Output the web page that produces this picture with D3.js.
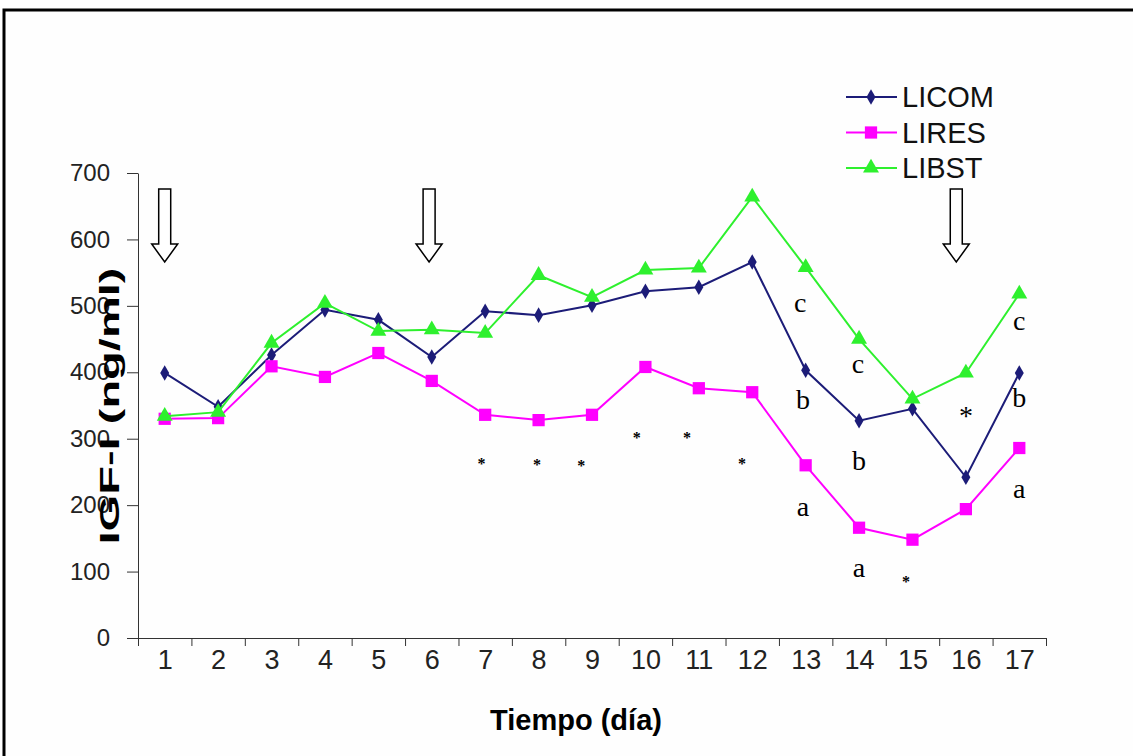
<!DOCTYPE html>
<html>
<head>
<title>IGF-I</title>
<script src="https://d3js.org/d3.v7.min.js"></script>
<style>
body, html {
  margin: 0;
  padding: 0;
  background: #fff;
}
svg {
  display: block;
}
</style>
</head>
<body>
<svg id="chart" width="1133" height="756"></svg>

<script>

// days on x axis
const days = d3.range(1, 18);
const yTicks = [0, 100, 200, 300, 400, 500, 600, 700];

// IGF-I (ng/ml)
const licom = [399, 348, 426, 494, 479, 423, 492, 486, 501, 522, 528, 566, 403, 327, 345, 242, 399];
const lires = [330, 331, 409, 393, 429, 387, 336, 328, 336, 408, 376, 370, 260, 166, 148, 194, 286];
const libst = [334, 340, 444, 504, 462, 464, 459, 546, 513, 554, 557, 664, 558, 450, 360, 399, 518];

const seriesNames = ["LICOM", "LIRES", "LIBST"];

// significance letters (day, value, text)
const letterDay = [12.9, 12.95, 12.95, 13.98, 14, 14, 16, 17, 17, 17];
const letterVal = [504, 358, 196, 411, 266, 105, 352, 476, 361, 223];
const letterTxt = ["c", "b", "a", "c", "b", "a", "*", "c", "b", "a"];

// little clipped asterisks
const starDay = [6.93, 7.97, 8.8, 9.84, 10.78, 11.81, 14.88];
const starVal = [268, 266, 265, 307, 307, 268, 90];

// injection arrows (day, top value, tip value)
const arrowDay = [1, 5.95, 15.82];
const arrowTop = [676, 676, 676];
const arrowTip = [566, 566, 566];

main();

function main() {
  const svg = d3.select("#chart");

  // outer frame
  svg.append("rect")
     .attr("x", 4).attr("y", 10)
     .attr("width", 1150).attr("height", 770)
     .attr("fill", "#fefefe")
     .attr("stroke", "#000")
     .attr("stroke-width", 3);

  const x = d3.scaleLinear().domain([0.5, 17.5]).range([138, 1046]);
  const y = d3.scaleLinear().domain([0, 700]).range([638, 173]);

  // y axis
  const yAxis = svg.append("g")
     .attr("transform", "translate(138,0)")
     .call(d3.axisLeft(y).tickValues(yTicks).tickSize(11).tickSizeOuter(0).tickPadding(17));
  yAxis.selectAll("text")
     .style("font-family", "Arial, 'Liberation Sans', sans-serif")
     .style("font-size", "24px")
     .attr("fill", "#222");
  yAxis.selectAll("line,path").attr("stroke", "#333");

  // x axis: labels at centres, ticks between categories
  const xLab = svg.append("g")
     .attr("transform", "translate(0,638)")
     .call(d3.axisBottom(x).tickValues(days).tickSize(0).tickPadding(12).tickFormat(d3.format("d")));
  xLab.select("path").remove();
  xLab.selectAll("text")
     .style("font-family", "Arial, 'Liberation Sans', sans-serif")
     .style("font-size", "27px")
     .attr("fill", "#222");

  const xTick = svg.append("g")
     .attr("transform", "translate(0,638)")
     .call(d3.axisBottom(x).tickValues(d3.range(0.5, 18, 1)).tickSize(8).tickSizeOuter(0).tickFormat(""));
  xTick.selectAll("line,path").attr("stroke", "#333");

  // axis titles
  svg.append("text")
     .attr("x", 576).attr("y", 730)
     .attr("text-anchor", "middle")
     .style("font-family", "Arial, 'Liberation Sans', sans-serif")
     .style("font-size", "29px")
     .style("font-weight", "bold")
     .text("Tiempo (día)");

  svg.append("text")
     .attr("transform", "translate(119,406) rotate(-90)")
     .attr("text-anchor", "middle")
     .attr("textLength", 277)
     .attr("lengthAdjust", "spacingAndGlyphs")
     .style("font-family", "Arial, 'Liberation Sans', sans-serif")
     .style("font-size", "28px")
     .style("font-weight", "bold")
     .text("IGF-I (ng/ml)");

  // arrows
  arrowDay.forEach(function(d, i) {
    const cx = x(d), top = y(arrowTop[i]), tip = y(arrowTip[i]);
    const neck = tip - 18;
    const p = d3.path();
    p.moveTo(cx - 6, top);
    p.lineTo(cx + 6, top);
    p.lineTo(cx + 6, neck);
    p.lineTo(cx + 13, neck);
    p.lineTo(cx, tip);
    p.lineTo(cx - 13, neck);
    p.lineTo(cx - 6, neck);
    p.closePath();
    svg.append("path")
       .attr("d", p.toString())
       .attr("fill", "#fff")
       .attr("stroke", "#000")
       .attr("stroke-width", 1.5);
  });

  const line = d3.line().x((d, i) => x(days[i])).y(d => y(d));

  const diamond = d3.symbol().type(d3.symbolDiamond).size(70);
  const square = d3.symbol().type(d3.symbolSquare).size(150);
  const triangle = d3.symbol().type(d3.symbolTriangle).size(110);

  const series = [
    { name: seriesNames[0], values: licom, color: "#1c1c78", symbol: diamond },
    { name: seriesNames[1], values: lires, color: "#ff00ff", symbol: square },
    { name: seriesNames[2], values: libst, color: "#2ef02e", symbol: triangle }
  ];

  series.forEach(function(s) {
    svg.append("path")
       .attr("d", line(s.values))
       .attr("fill", "none")
       .attr("stroke", s.color)
       .attr("stroke-width", 2);
    svg.append("g").selectAll("path")
       .data(s.values)
       .join("path")
       .attr("transform", (d, i) => "translate(" + x(days[i]) + "," + y(d) + ")")
       .attr("d", s.symbol())
       .attr("fill", s.color);
  });

  // letters
  svg.append("g").selectAll("text")
     .data(letterTxt)
     .join("text")
     .attr("x", (d, i) => x(letterDay[i]))
     .attr("y", (d, i) => y(letterVal[i]))
     .attr("dy", d => d === "*" ? "0.75em" : "0.3em")
     .attr("text-anchor", "middle")
     .style("font-family", "'Liberation Serif', 'Times New Roman', serif")
     .style("font-size", "28px")
     .text(d => d);

  svg.append("g").selectAll("text")
     .data(starVal)
     .join("text")
     .attr("x", (d, i) => x(starDay[i]))
     .attr("y", d => y(d))
     .attr("dy", "0.55em")
     .attr("text-anchor", "middle")
     .attr("fill", "#000")
     .style("font-family", "'Liberation Serif', 'Times New Roman', serif")
     .style("font-size", "16px")
     .style("font-weight", "bold")
     .text("*");

  // legend
  const legend = svg.append("g");
  series.forEach(function(s, i) {
    const ly = 97 + i * 35.5;
    legend.append("line")
       .attr("x1", 846).attr("x2", 897)
       .attr("y1", ly).attr("y2", ly)
       .attr("stroke", s.color)
       .attr("stroke-width", 2);
    legend.append("path")
       .attr("transform", "translate(871," + ly + ")")
       .attr("d", s.symbol())
       .attr("fill", s.color);
    legend.append("text")
       .attr("x", 902).attr("y", ly)
       .attr("dy", "0.36em")
       .style("font-family", "Arial, 'Liberation Sans', sans-serif")
       .style("font-size", "29px")
       .attr("fill", "#111")
       .text(s.name);
  });
}

</script>
</body>
</html>
